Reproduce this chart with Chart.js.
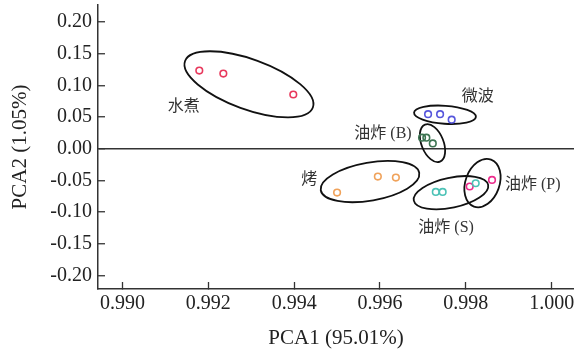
<!DOCTYPE html>
<html lang="zh">
<head>
<meta charset="UTF-8">
<title>PCA</title>
<script src="https://cdn.jsdelivr.net/npm/chart.js"></script>
<style>
    body { margin: 0; background: #fff; }
    #wrap { width: 574px; height: 351px; }
</style>
</head>
<body>
<div id="wrap"><canvas id="pca"></canvas></div>
<script>
// group names and colours
const groupNames = ['水煮', '微波', '油炸 (B)', '烤', '油炸 (S)', '油炸 (P)'];
const groupColors = ['#e8385c', '#5656dc', '#3d7452', '#f0a25a', '#4cc2b6', '#ec2c8c'];

// PCA scores
const boilPC1 = [0.99179, 0.99235, 0.99398];
const boilPC2 = [0.1233, 0.1186, 0.0855];
const microPC1 = [0.99712, 0.99740, 0.99767];
const microPC2 = [0.0545, 0.0545, 0.0457];
const fryBPC1 = [0.99698, 0.99708, 0.99723];
const fryBPC2 = [0.0173, 0.0173, 0.0083];
const roastPC1 = [0.99500, 0.99595, 0.99637];
const roastPC2 = [-0.0693, -0.0441, -0.0457];
const frySPC1 = [0.99730, 0.99746, 0.99823];
const frySPC2 = [-0.0683, -0.0683, -0.0546];
const fryPPC1 = [0.99809, 0.99861];
const fryPPC2 = [-0.0598, -0.0494];

const pc1Series = [boilPC1, microPC1, fryBPC1, roastPC1, frySPC1, fryPPC1];
const pc2Series = [boilPC2, microPC2, fryBPC2, roastPC2, frySPC2, fryPPC2];

// axis ticks
const xTicks = [0.990, 0.992, 0.994, 0.996, 0.998, 1.000];
const yTicks = [-0.20, -0.15, -0.10, -0.05, 0.00, 0.05, 0.10, 0.15, 0.20];

// group label anchors (data coords)
const labelPC1 = [0.99143, 0.99828, 0.99607, 0.99435, 0.99754, 0.99956];
const labelPC2 = [0.0660, 0.0811, 0.0228, -0.0496, -0.1252, -0.0575];

// confidence ellipses: centre in data coords
const ellPC1 = [0.992947, 0.997514, 0.997223, 0.995767, 0.997654, 0.998388];
const ellPC2 = [0.1016, 0.0535, 0.0087, -0.0520, -0.0696, -0.0543];
// ellipse shape in pixels: semi axes and tilt
const ellShape = [
    { a: 68, b: 25, deg: 20 },
    { a: 31, b: 9, deg: 4 },
    { a: 20, b: 11, deg: 68 },
    { a: 50, b: 19, deg: -10 },
    { a: 38, b: 15, deg: -12 },
    { a: 25, b: 17, deg: -70 }
];

const datasets = groupNames.map((name, i) => ({
    label: name,
    data: pc1Series[i].map((x, j) => ({ x: x, y: pc2Series[i][j] })),
    borderColor: groupColors[i],
    backgroundColor: 'rgba(0,0,0,0)',
    pointRadius: 3.3,
    pointBorderWidth: 1.6,
    pointHoverRadius: 3.3
}));

const overlay = {
    id: 'overlay',
    beforeDatasetsDraw(chart) {
        const { ctx, scales: { x, y } } = chart;
        ctx.save();
        ctx.strokeStyle = '#111';
        ctx.lineWidth = 1.8;
        ellShape.forEach((s, i) => {
            ctx.beginPath();
            ctx.ellipse(x.getPixelForValue(ellPC1[i]), y.getPixelForValue(ellPC2[i]),
                s.a, s.b, s.deg * Math.PI / 180, 0, Math.PI * 2);
            ctx.stroke();
        });
        ctx.restore();
    },
    afterDatasetsDraw(chart) {
        const { ctx, scales: { x, y } } = chart;
        ctx.save();
        ctx.fillStyle = '#333';
        ctx.font = '16px "Liberation Serif", "Noto Sans CJK SC", serif';
        ctx.textAlign = 'center';
        ctx.textBaseline = 'middle';
        groupNames.forEach((name, i) => {
            ctx.fillText(name, x.getPixelForValue(labelPC1[i]), y.getPixelForValue(labelPC2[i]));
        });
        ctx.restore();
    }
};

const serif = '"Liberation Serif", "Times New Roman", serif';

new Chart(document.getElementById('pca'), {
    type: 'scatter',
    data: { datasets: datasets },
    options: {
        responsive: true,
        maintainAspectRatio: false,
        animation: false,
        layout: { autoPadding: false, padding: { top: 5, right: 0, left: 0, bottom: 0 } },
        plugins: {
            legend: { display: false },
            tooltip: { enabled: false }
        },
        scales: {
            x: {
                type: 'linear',
                min: 0.98943,
                max: 1.00052,
                afterFit(scale) {
                    scale.height = 62;
                    scale.paddingLeft = 0;
                    scale.paddingRight = 0;
                },
                afterBuildTicks(scale) { scale.ticks = xTicks.map(v => ({ value: v })); },
                ticks: {
                    color: '#222',
                    font: { family: serif, size: 20 },
                    padding: 10,
                    callback: v => v.toFixed(3)
                },
                grid: { drawOnChartArea: false, tickLength: -7, tickColor: '#333', tickWidth: 1.3 },
                border: { display: true, color: '#333', width: 1.5 },
                title: {
                    display: true,
                    text: 'PCA1 (95.01%)',
                    color: '#222',
                    font: { family: serif, size: 21 },
                    padding: { top: 0, bottom: 0 }
                }
            },
            y: {
                type: 'linear',
                min: -0.2216,
                max: 0.2268,
                afterFit(scale) {
                    scale.width = 98;
                    scale.paddingTop = 0;
                    scale.paddingBottom = 0;
                },
                afterBuildTicks(scale) { scale.ticks = yTicks.map(v => ({ value: v })); },
                ticks: {
                    color: '#222',
                    font: { family: serif, size: 20 },
                    padding: 13,
                    callback: v => v.toFixed(2)
                },
                grid: {
                    drawOnChartArea: true,
                    color: c => (c.tick && c.tick.value === 0 ? '#333' : 'rgba(0,0,0,0)'),
                    lineWidth: 1.5,
                    tickLength: -7,
                    tickColor: '#333',
                    tickWidth: 1.3
                },
                border: { display: true, color: '#333', width: 1.5 },
                title: {
                    display: true,
                    text: 'PCA2 (1.05%)',
                    color: '#222',
                    font: { family: serif, size: 21 },
                    padding: { top: 8, bottom: 0 }
                }
            }
        }
    },
    plugins: [overlay]
});
</script>
</body>
</html>
